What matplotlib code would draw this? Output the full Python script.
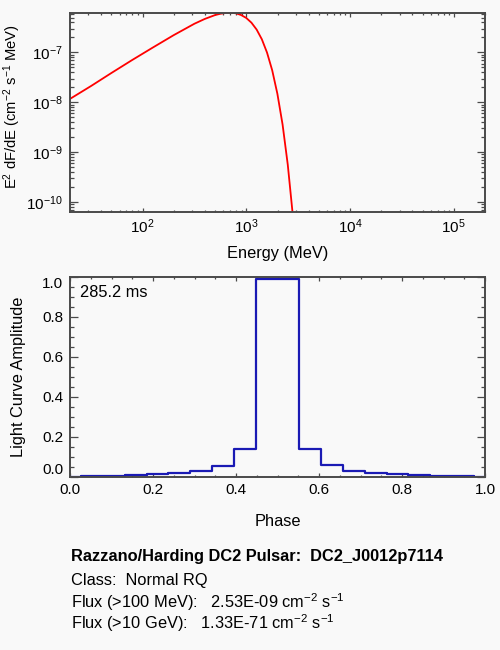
import matplotlib
matplotlib.use("Agg")
import matplotlib.pyplot as plt
from matplotlib.ticker import LogLocator, MultipleLocator

# -----------------------------------------------------------
# Dados
# -----------------------------------------------------------
# Espectro E^2 dF/dE (MeV)
energia_mev = [20, 32, 50, 79, 126, 200, 316, 398, 501, 562, 631, 708, 794,
               891, 1000, 1122, 1259, 1413, 1585, 1778, 1995, 2239, 2512, 2818]
e2_dfde = [1.17e-8, 2.13e-8, 3.86e-8, 7.00e-8, 1.26e-7, 2.23e-7, 3.77e-7,
           4.71e-7, 5.64e-7, 5.98e-7, 6.20e-7, 6.27e-7, 6.12e-7,
           5.65e-7, 4.93e-7, 3.96e-7, 2.88e-7, 1.84e-7, 9.95e-8, 4.39e-8,
           1.48e-8, 3.57e-9, 5.58e-10, 5.06e-11]

# Curva de luz (centro de cada bin de fase)
fase = [0.0, 0.053, 0.105, 0.158, 0.211, 0.263, 0.316, 0.368, 0.421, 0.474,
        0.526, 0.579, 0.632, 0.684, 0.737, 0.789, 0.842, 0.895, 0.947, 1.0]
amplitude = [0.002, 0.003, 0.005, 0.008, 0.013, 0.018, 0.028, 0.057, 0.14, 0.99,
             0.99, 0.14, 0.058, 0.030, 0.018, 0.013, 0.008, 0.005, 0.003, 0.002]

ticks_fase = [0.0, 0.2, 0.4, 0.6, 0.8, 1.0]
ticks_amp = [0.0, 0.2, 0.4, 0.6, 0.8, 1.0]

periodo = "285.2 ms"
titulo = "Razzano/Harding DC2 Pulsar:  DC2_J0012p7114"
classe = "Class:  Normal RQ"
fluxo_100 = "Flux (>100 MeV):   2.53E-09 cm$^{-2}$ s$^{-1}$"
fluxo_10g = "Flux (>10 GeV):   1.33E-71 cm$^{-2}$ s$^{-1}$"

# -----------------------------------------------------------
# Estilo
# -----------------------------------------------------------
plt.rcParams["font.family"] = ["Liberation Sans", "DejaVu Sans"]
plt.rcParams["mathtext.default"] = "regular"
plt.rcParams["axes.unicode_minus"] = False

fundo = "#f9f9f9"
cor_eixo = "#4a4a4a"
fs_tick = 11
fs_label = 11.8


def estilo_eixo(ax):
    for s in ax.spines.values():
        s.set_color(cor_eixo)
        s.set_linewidth(1.4)
    ax.set_facecolor(fundo)
    ax.tick_params(which="both", direction="in", top=True, right=True,
                   color=cor_eixo, width=0.9, labelsize=fs_tick)
    ax.tick_params(axis="x", which="major", length=3, pad=4)
    ax.tick_params(axis="x", which="minor", length=1.6)
    ax.tick_params(axis="y", which="major", length=6, pad=5)
    ax.tick_params(axis="y", which="minor", length=3)


fig = plt.figure(figsize=(5, 6.5), dpi=100, facecolor=fundo)

# -----------------------------------------------------------
# Espectro
# -----------------------------------------------------------
ax1 = fig.add_axes([0.14, 0.674, 0.83, 0.306])
ax1.plot(energia_mev, e2_dfde, color="red", lw=1.3)
ax1.set_xscale("log")
ax1.set_yscale("log")
ax1.set_xlim(20, 2e5)
ax1.set_ylim(6.3e-11, 6.2e-7)
ax1.xaxis.set_major_locator(LogLocator(base=10, numticks=10))
ax1.xaxis.set_minor_locator(LogLocator(base=10, subs=range(2, 10), numticks=20))
ax1.yaxis.set_major_locator(LogLocator(base=10, numticks=10))
ax1.yaxis.set_minor_locator(LogLocator(base=10, subs=range(2, 10), numticks=20))
estilo_eixo(ax1)
ax1.set_xlabel("Energy (MeV)", fontsize=fs_label)
ax1.set_ylabel("E$^2$ dF/dE (cm$^{-2}$ s$^{-1}$ MeV)", fontsize=10.6)
ax1.xaxis.set_label_coords(0.5, -0.172)
ax1.yaxis.set_label_coords(-0.114, 0.53)

# -----------------------------------------------------------
# Curva de luz
# -----------------------------------------------------------
ax2 = fig.add_axes([0.14, 0.2662, 0.83, 0.3077])
ax2.plot(fase, amplitude, drawstyle="steps-mid", color="#1a1ab4", lw=1.6)
ax2.set_xlim(0, 1)
ax2.set_ylim(0, 1.0)
ax2.set_xticks(ticks_fase, [f"{v:.1f}" for v in ticks_fase])
ax2.set_yticks(ticks_amp, [f"{v:.1f}" for v in ticks_amp])
ax2.xaxis.set_minor_locator(MultipleLocator(0.05))
ax2.yaxis.set_minor_locator(MultipleLocator(0.05))
estilo_eixo(ax2)
# rótulos das pontas ficam para dentro do eixo, como no original
rotulos_y = ax2.get_yticklabels()
rotulos_y[0].set_va("bottom")
rotulos_y[-1].set_va("top")
ax2.set_xlabel("Phase", fontsize=fs_label)
ax2.set_ylabel("Light Curve Amplitude", fontsize=fs_label)
ax2.xaxis.set_label_coords(0.5, -0.185)
ax2.yaxis.set_label_coords(-0.106, 0.5)
ax2.text(0.024, 0.92, periodo, transform=ax2.transAxes, ha="left",
         va="center", fontsize=fs_label)

# -----------------------------------------------------------
# Texto informativo
# -----------------------------------------------------------
x_txt = 71 / 500
fig.text(x_txt, 1 - 556 / 650, titulo, fontsize=fs_label, fontweight="bold",
         va="center", ha="left")
fig.text(x_txt, 1 - 581 / 650, classe, fontsize=fs_label, va="center", ha="left")
fig.text(x_txt, 1 - 602 / 650, fluxo_100, fontsize=fs_label, va="center", ha="left")
fig.text(x_txt, 1 - 623 / 650, fluxo_10g, fontsize=fs_label, va="center", ha="left")

fig.savefig("out.png", dpi=100, facecolor=fundo)
